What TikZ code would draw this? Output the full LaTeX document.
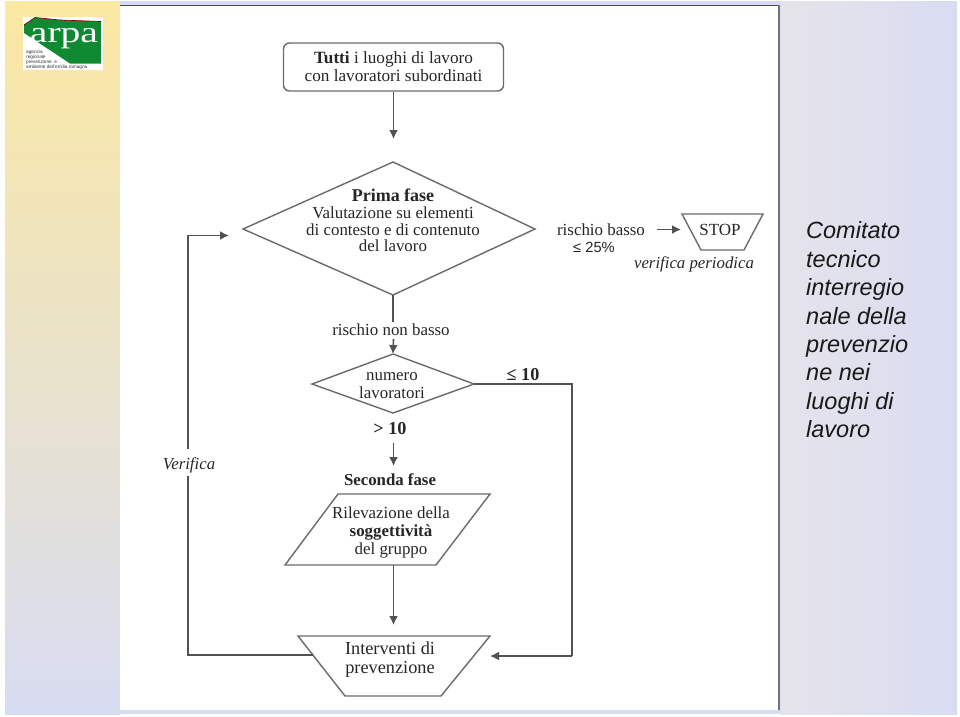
\documentclass[tikz,border=0pt]{standalone}
\usepackage{fontspec}
\setmainfont{Liberation Serif}
\setsansfont{Liberation Sans}
\usetikzlibrary{arrows.meta}
\tikzset{
  x=1pt,y=-1pt,
  shapeline/.style={draw=black!58,line width=1.4pt,line join=miter},
  flow/.style={draw=black!68,line width=1.6pt},
  arrowflow/.style={flow,-{Latex[length=9pt,width=9pt]}},
  label/.style={inner sep=0pt,align=center,text=black!85,font=\fontsize{16.9}{16.6}\selectfont},
  boldlabel/.style={label,font=\fontsize{18.2}{18}\selectfont\bfseries},
  note/.style={label,font=\fontsize{16.8}{17}\selectfont\itshape},
  sidetext/.style={inner sep=0pt,anchor=north west,align=left,font=\sffamily\itshape\fontsize{23.5}{28.45}\selectfont,text=black!90},
}
\definecolor{sandtop}{HTML}{FBE8A2}
\definecolor{sandmid}{HTML}{F1EBCB}
\definecolor{lavender}{HTML}{D8DCF2}
\definecolor{palegrey}{HTML}{E6E4EA}
\definecolor{arpagreen}{HTML}{0F8A33}
\begin{document}
\begin{tikzpicture}
\useasboundingbox (0,0) rectangle (960,716);
% slide background
\fill[white] (0,0) rectangle (960,716);
\fill[lavender] (5,1) rectangle (957,714);
\shade[top color=sandtop,middle color=sandmid,bottom color=lavender] (5,1) rectangle (120,714);
\shade[left color=palegrey,right color=lavender] (781,1) rectangle (957,714);
% page holding the flow chart
\fill[white] (120,5) rectangle (780,710);
\draw[black!70,line width=1.4pt] (120,5.5) -- (780,5.5);
\draw[black!55,line width=1.4pt] (779,5) -- (779,710);
% logo
\fill[white] (23,17) rectangle (103,70);
\fill[arpagreen] (24,25) -- (35,17.5) -- (60,20) -- (101,21.5) -- (101,63.5) -- (70,63.5) -- (24,33) -- cycle;
\draw[red!55!black,line width=0.7pt] (24,25) -- (35,17.5) -- (60,20) -- (101,21.5);
\node[inner sep=0pt,anchor=base,text=white,font=\fontsize{30}{30}\selectfont] (logo) at (64,42.5) {\scalebox{1.32}[1]{arpa}};
\node[inner sep=0pt,anchor=north west,align=left,font=\sffamily\fontsize{4.7}{5.2}\selectfont,text=black!80] (logotext) at (26,49.6) {agenzia\\regionale\\prevenzione\ \ e\\ambiente dell'emilia romagna};
% flow chart shapes
\node[inner sep=0pt,minimum width=220pt,minimum height=48pt,rounded corners=6pt,shapeline,label,font=\fontsize{17.2}{18}\selectfont] (start) at (393.5,67) {\textbf{Tutti} i luoghi di lavoro\\con lavoratori subordinati};
\coordinate (d1n) at (393,162);
\coordinate (d1e) at (535,229);
\coordinate (d1s) at (393,295);
\coordinate (d1w) at (243,229);
\draw[shapeline] (d1n) -- (d1e) -- (d1s) -- (d1w) -- cycle;
\node[label,anchor=north] (d1t) at (393,189) {\textbf{\fontsize{18}{20}\selectfont Prima fase}\\Valutazione su elementi\\di contesto e di contenuto\\del lavoro};
\coordinate (d2n) at (393,354);
\coordinate (d2e) at (474,384);
\coordinate (d2s) at (393,413);
\coordinate (d2w) at (312,384);
\draw[shapeline] (d2n) -- (d2e) -- (d2s) -- (d2w) -- cycle;
\node[label,font=\fontsize{16.9}{18}\selectfont] (d2t) at (392,385.5) {numero\\lavoratori};
\draw[shapeline] (338,494) -- (490,494) -- (436,565) -- (285,565) -- cycle;
\node (rileva) [label,font=\fontsize{16.9}{18}\selectfont] at (391,532) {Rilevazione della\\\textbf{soggettività}\\del gruppo};
\coordinate (intw) at (313,655);
\coordinate (inte) at (490,656);
\draw[shapeline] (298,636) -- (490,636) -- (441,696) -- (345,696) -- cycle;
\node[label,font=\fontsize{18.3}{19}\selectfont] (interv) at (390,660) {Interventi di\\prevenzione};
\draw[shapeline] (682,214) -- (763,214) -- (744,250) -- (701,250) -- cycle;
\node[label,font=\fontsize{17}{17}\selectfont] (stop) at (720,229.5) {STOP};
% labels along the connectors
\node[label] (basso) at (601,230) {rischio basso};
\node[inner sep=0pt,font=\sffamily\fontsize{14.7}{16}\selectfont,text=black!85] (pct) at (594,247) {≤ 25\%};
\node[note] (periodica) at (694,264) {verifica periodica};
\node[label] (nonbasso) at (391,330) {rischio non basso};
\node[boldlabel] (le10) at (523,375) {≤ 10};
\node[boldlabel] (gt10) at (390,429) {> 10};
\node[boldlabel,font=\fontsize{16.8}{16}\selectfont\bfseries] (seconda) at (390,480) {Seconda fase};
\node[note] (verifica) at (189,465) {Verifica};
% connectors
\draw[arrowflow] (start.south) -- (393.5,139);
\draw[flow] (d1s) -- (393,322);
\draw[arrowflow] (393.5,339) -- (d2n);
\draw[arrowflow] (393.5,443) -- (393.5,466);
\draw[arrowflow] (393.5,565) -- (393.5,625);
\draw[arrowflow] (657,229.5) -- (681,229.5);
\draw[flow] (d2e) -- (572,384) -- (572,656);
\draw[arrowflow] (572,656) -- (inte);
\draw[flow] (intw) -- (188,655) -- (188,476);
\draw[arrowflow] (188,449) -- (188,235.5) -- (229,235.5);
% committee caption
\node[sidetext] (side) at (806,221.5) {Comitato\\tecnico\\interregio\\nale della\\prevenzio\\ne nei\\luoghi di\\lavoro};
\end{tikzpicture}
\end{document}
